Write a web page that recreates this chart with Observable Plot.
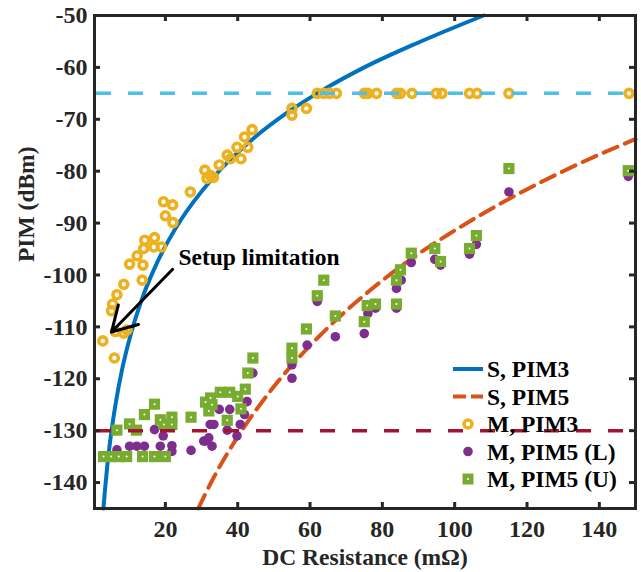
<!DOCTYPE html>
<html><head><meta charset="utf-8">
<script src="https://cdn.jsdelivr.net/npm/d3@7"></script>
<script src="https://cdn.jsdelivr.net/npm/@observablehq/plot@0.6"></script>
<style>
body{margin:0;background:#fff;}
#chart{width:641px;height:572px;}
</style></head><body><div id="chart"></div>
<script>
// ---- tick labels ----
const xTicks = [20, 40, 60, 80, 100, 120, 140];
const yTicks = [-140, -130, -120, -110, -100, -90, -80, -70, -60, -50];

// ---- simulated curves ----
const simPim3R = [2.87, 3.2, 3.9, 4.8, 6.2, 8.0, 10.4, 13.6, 18, 24, 33, 44, 55, 62, 75, 90, 108];
const simPim3  = [-145, -142.2, -137, -131.6, -125, -118.3, -111.5, -104.5, -97.2, -89.7, -81.4, -73.9, -68.1, -65, -60, -55.2, -50];
const simPim5R = [29.1, 33, 39.8, 45, 51.3, 62.4, 76.7, 88, 98, 114.6, 130, 150];
const simPim5  = [-145, -139.5, -131.4, -126.1, -120.4, -111.9, -102.9, -96.9, -92.3, -85.5, -80, -73.8];

// ---- measured PIM3 ----
const measPim3R = [2.7, 5.9, 5.1, 5.4, 6.6, 8.5, 13.6, 10.1, 13.8, 12.2, 14, 16.8, 18.9, 14.3, 17, 19.5, 22, 20, 22.1, 6.2, 9.4, 8.5,
  26.9, 30.9, 32.4, 31.5, 33.3, 34.9, 37.1, 38, 40.9, 39.8, 42.8, 41.9, 44, 55, 55, 59,
  62, 63.8, 65.4, 67.3, 75, 76, 78.4, 83.9, 85, 88.2, 94.9, 96.5, 104.1, 106.2, 115, 148.2];
const measPim3 = [-112.7, -116, -106.9, -105.6, -103.8, -101.8, -101, -97.9, -98.1, -96.3, -94.9, -94.6, -94.6, -93.3, -92.8, -85.9, -86.5, -88.6, -89.9, -110.9, -110.6, -111.2,
  -84, -79.8, -80.8, -81.4, -81.2, -78.8, -76.9, -77.6, -77.6, -75.4, -75.4, -73.4, -72, -67.9, -69.2, -67.9,
  -65, -65, -65, -65, -65, -65, -65, -65, -65, -65, -65, -65, -65, -65, -65, -65];

// ---- measured PIM5 lower ----
const measPim5LR = [6.6, 10.1, 12.1, 14.2, 17, 19.4, 18.6, 21.8, 21.8, 27.1, 30.6, 31.1, 32, 32.9, 32.4, 33.4, 34.9, 37.8, 37.1, 39.8, 40.7, 41.9, 42.6, 44.2,
  55, 55, 59.2, 62, 67, 75, 76, 78.1, 83.9, 83.9, 85.2, 88, 94.5, 96.1, 104.1, 106, 115, 148];
const measPim5L = [-133.7, -133, -133, -133, -129.8, -131, -133, -132.9, -134, -133.8, -132, -132, -131.4, -133, -128.8, -128.8, -125.9, -125.9, -129.9, -131, -128.8, -126.9, -124.4, -118.9,
  -117.3, -119.9, -113.5, -105.1, -111.9, -111.3, -107.4, -106.4, -106.4, -102.6, -101, -97.6, -97, -98.1, -96, -94.1, -84, -81];

// ---- measured PIM5 upper ----
const measPim5UR = [2.9, 5.0, 7.1, 9.3, 13.7, 17, 20, 6.6, 10.1, 12, 14.2, 17, 18.6, 19.6, 21.8, 21.8, 27.1,
  31.1, 32.5, 32.9, 32, 35.2, 37.8, 40, 42.1, 42.8, 44.2, 37.1, 40.9,
  55, 55, 59, 62, 63.8, 67, 75, 75.8, 78.1, 83.9, 83.9, 85, 88, 94.5, 96.1, 104.1, 106, 115, 148];
const measPim5U = [-135, -135, -135, -135, -135, -135, -135, -129.9, -128.7, -129.9, -126.9, -124.9, -127.9, -128.8, -127.4, -128.8, -127.4,
  -124.5, -123.7, -125, -126.2, -122.6, -122.6, -123.4, -122, -118.9, -116, -128, -125.8,
  -114.1, -116, -110.4, -104, -101, -107.9, -109, -105.9, -105.6, -105.6, -101, -99, -95.8, -94.9, -97.4, -94.9, -92.4, -79.5, -79.9];

// ---- limits ----
const limitLines = [-65, -130];

// ---- annotation ----
const annotText = ["Setup limitation"];
const annotTextAt = [23.6, -96.6];
const arrowFrom = [22, -98.9];
const arrowTo = [5.1, -111.0];

// ---- legend labels ----
const legendLabels = ["S, PIM3", "S, PIM5", "M, PIM3", "M, PIM5 (L)", "M, PIM5 (U)"];

const xLabel = "DC Resistance (m\u03A9)";
const yLabel = "PIM (dBm)";

const C = {blue: "#0072BD", orange: "#D95319", yellow: "#EDB120", purple: "#7E2F8E", green: "#77AC30", light: "#4DBEEE", red: "#A2142F", axis: "#262626"};

const rows = (xs, ys) => xs.map((x, i) => ({x, y: ys[i]}));
const s3 = rows(simPim3R, simPim3), s5 = rows(simPim5R, simPim5);
const m3 = rows(measPim3R, measPim3), mL = rows(measPim5LR, measPim5L), mU = rows(measPim5UR, measPim5U);

const W = 641, H = 572, ML = 94, MR = 6, MT = 15, MB = 64;
const PW = W - ML - MR, PH = H - MT - MB;
const FONT = "'Liberation Serif','Times New Roman',serif";

const plot = Plot.plot({
  width: W, height: H,
  marginLeft: ML, marginRight: MR, marginTop: MT, marginBottom: MB,
  style: {fontFamily: FONT, fontSize: "24px", fontWeight: "bold", color: C.axis, background: "white", overflow: "visible"},
  x: {domain: [0.4, 150]},
  y: {domain: [-145, -50]},
  marks: [
    Plot.line(s3, {x: "x", y: "y", stroke: C.blue, strokeWidth: 4, curve: "monotone-x"}),
    Plot.line(s5, {x: "x", y: "y", stroke: C.orange, strokeWidth: 4, strokeDasharray: "15,8", curve: "monotone-x"}),
    Plot.dot(mL, {x: "x", y: "y", r: 4.8, fill: C.purple}),
    Plot.dot(mU, {x: "x", y: "y", symbol: "square", r: 6.3, fill: C.green}),
    Plot.dot(mU, {x: "x", y: "y", r: 1, fill: "white"}),
    Plot.dot(m3, {x: "x", y: "y", r: 4, stroke: C.yellow, strokeWidth: 3.6, fill: "none"}),
    Plot.ruleY([limitLines[0]], {stroke: C.light, strokeWidth: 3.5, strokeDasharray: "15,17", strokeDashoffset: -2}),
    Plot.ruleY([limitLines[1]], {stroke: C.red, strokeWidth: 3.5, strokeDasharray: "15,17", strokeDashoffset: -2}),
    Plot.arrow([0], {x1: arrowFrom[0], y1: arrowFrom[1], x2: arrowTo[0], y2: arrowTo[1], stroke: "black", strokeWidth: 3, headLength: 14}),
    Plot.text(annotText, {x: annotTextAt[0], y: annotTextAt[1], text: d => d, textAnchor: "start", lineAnchor: "middle", fill: "black", fontSize: 23.5}),
    Plot.axisX({ticks: xTicks, tickSize: 0, tickPadding: 11, tickFormat: d => String(d), label: null}),
    Plot.axisY({ticks: yTicks, tickSize: 0, tickPadding: 7, tickFormat: d => String(d), label: null}),
    Plot.tickX(xTicks, {x: d => d, insetTop: PH - 6, stroke: C.axis, strokeWidth: 3}),
    Plot.tickX(xTicks, {x: d => d, insetBottom: PH - 6, stroke: C.axis, strokeWidth: 3}),
    Plot.tickY(yTicks, {y: d => d, insetRight: PW - 6, stroke: C.axis, strokeWidth: 3}),
    Plot.tickY(yTicks, {y: d => d, insetLeft: PW - 6, stroke: C.axis, strokeWidth: 3}),
    Plot.frame({stroke: C.axis, strokeWidth: 3}),
    Plot.text([xLabel], {frameAnchor: "bottom", dy: 49, text: d => d, lineAnchor: "middle", fill: C.axis, fontSize: 23.5}),
    Plot.text([yLabel], {frameAnchor: "left", dx: -68, rotate: -90, text: d => d, lineAnchor: "middle", fill: C.axis, fontSize: 23.5})
  ]
});

// legend (inside plot, lower right)
const svg = d3.select(plot);
const lg = svg.append("g").attr("font-family", FONT).attr("font-size", 23.5).attr("font-weight", "bold").attr("fill", "black").attr("text-anchor", "start");
const rowY = i => 369 + i * 27.5;
legendLabels.forEach((t, i) => {
  const y = rowY(i);
  if (i === 0) lg.append("line").attr("x1", 453).attr("x2", 483).attr("y1", y).attr("y2", y).attr("stroke", C.blue).attr("stroke-width", 4);
  if (i === 1) lg.append("line").attr("x1", 453).attr("x2", 483).attr("y1", y).attr("y2", y).attr("stroke", C.orange).attr("stroke-width", 4).attr("stroke-dasharray", "13,5");
  if (i === 2) lg.append("circle").attr("cx", 468).attr("cy", y).attr("r", 4).attr("fill", "none").attr("stroke", C.yellow).attr("stroke-width", 3.6);
  if (i === 3) lg.append("circle").attr("cx", 468).attr("cy", y).attr("r", 4.8).attr("fill", C.purple);
  if (i === 4) {
    lg.append("rect").attr("x", 462.5).attr("y", y - 5.5).attr("width", 11).attr("height", 11).attr("fill", C.green);
    lg.append("circle").attr("cx", 468).attr("cy", y).attr("r", 1).attr("fill", "white");
  }
  lg.append("text").attr("x", 487).attr("y", y).attr("dy", "0.35em").attr("text-anchor", "start").text(t);
});

document.getElementById("chart").appendChild(plot);
</script>
</body></html>
